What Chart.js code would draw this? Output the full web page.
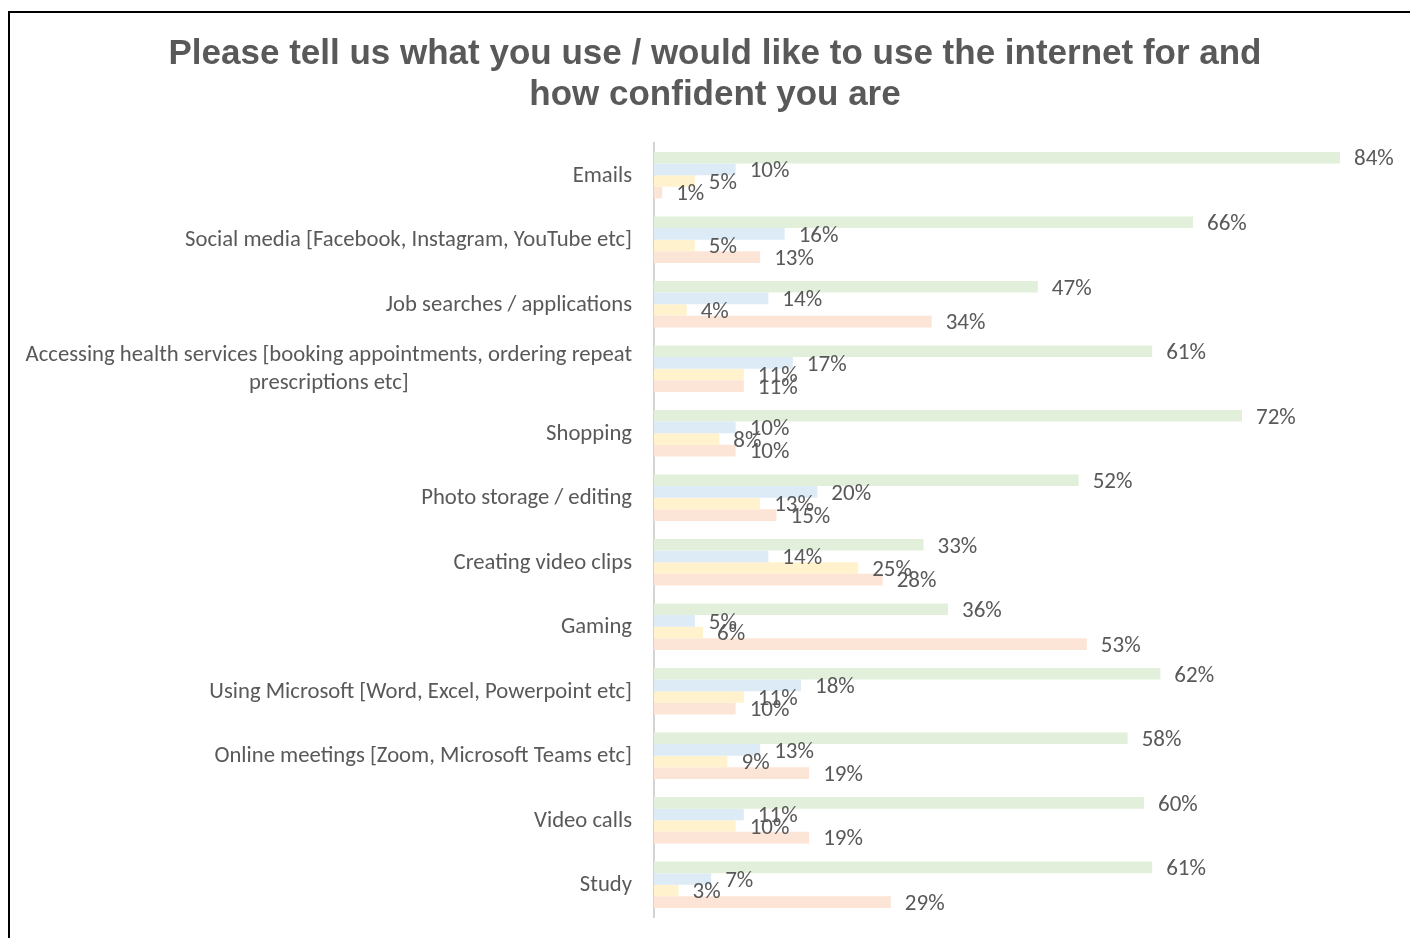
<!DOCTYPE html>
<html>
<head>
<meta charset="utf-8">
<script src="https://cdn.jsdelivr.net/npm/chart.js@4"></script>
<style>
  html, body { margin: 0; padding: 0; background: #fff; overflow: hidden; }
  #frame {
    position: absolute; left: 8px; top: 11px;
    width: 1440px; height: 960px;
    border: 2px solid #000; background: #fff;
  }
  #chart { display: block; }
</style>
</head>
<body>
<div id="frame"><canvas id="chart" width="1410" height="925"></canvas></div>
<script>
// Activities asked about (multi-line entries are wrapped labels)
const categories = [
  'Emails',
  'Social media [Facebook, Instagram, YouTube etc]',
  'Job searches / applications',
  ['Accessing health services [booking appointments, ordering repeat', 'prescriptions etc]'],
  'Shopping',
  'Photo storage / editing',
  'Creating video clips',
  'Gaming',
  'Using Microsoft [Word, Excel, Powerpoint etc]',
  'Online meetings [Zoom, Microsoft Teams etc]',
  'Video calls',
  'Study'
];

// Share of respondents (%) per answer
const confidentUse   = [84, 66, 47, 61, 72, 52, 33, 36, 62, 58, 60, 61];
const someHelpNeeded = [10, 16, 14, 17, 10, 20, 14,  5, 18, 13, 11,  7];
const wouldLikeToUse = [ 5,  5,  4, 11,  8, 13, 25,  6, 11,  9, 10,  3];
const notInterested  = [ 1, 13, 34, 11, 10, 15, 28, 53, 10, 19, 19, 29];

const TEXT = '#595959';
const LABEL_FONT = '22.7px Carlito, Lato, "Open Sans", sans-serif';
const VALUE_FONT = '23px Carlito, Lato, "Open Sans", sans-serif';

// Category names on the left: lines centred on each other, block right-aligned
const categoryLabels = {
  id: 'categoryLabels',
  afterDraw(chart) {
    const { ctx, chartArea, scales: { y } } = chart;
    ctx.save();
    ctx.font = LABEL_FONT;
    ctx.fillStyle = TEXT;
    ctx.textAlign = 'center';
    ctx.textBaseline = 'middle';
    const lineH = 28;
    const right = chartArea.left - 22;
    categories.forEach((lab, i) => {
      const lines = Array.isArray(lab) ? lab : [lab];
      const w = Math.max(...lines.map(l => ctx.measureText(l).width));
      const cx = right - w / 2;
      const yc = y.getPixelForValue(i);
      lines.forEach((l, j) => {
        ctx.fillText(l, cx, yc + 1 + (j - (lines.length - 1) / 2) * lineH);
      });
    });
    ctx.restore();
  }
};

// Percentage labels at the end of each bar
const valueLabels = {
  id: 'valueLabels',
  afterDatasetsDraw(chart) {
    const { ctx } = chart;
    ctx.save();
    ctx.font = VALUE_FONT;
    ctx.fillStyle = TEXT;
    ctx.textAlign = 'left';
    ctx.textBaseline = 'middle';
    chart.data.datasets.forEach((ds, di) => {
      const meta = chart.getDatasetMeta(di);
      meta.data.forEach((bar, i) => {
        ctx.fillText(ds.data[i] + '%', bar.x + 14, bar.y + 2);
      });
    });
    ctx.restore();
  }
};

new Chart(document.getElementById('chart'), {
  type: 'bar',
  data: {
    labels: categories,
    datasets: [
      { label: 'Use confidently',       data: confidentUse,   backgroundColor: '#e2efda' },
      { label: 'Use with some help',    data: someHelpNeeded, backgroundColor: '#ddebf7' },
      { label: 'Would like to use',     data: wouldLikeToUse, backgroundColor: '#fff2cc' },
      { label: 'Not interested',        data: notInterested,  backgroundColor: '#fce4d6' }
    ]
  },
  options: {
    indexAxis: 'y',
    responsive: false,
    animation: false,
    datasets: { bar: { categoryPercentage: 0.72, barPercentage: 1.0 } },
    layout: { padding: { left: 0, right: 0, top: 0, bottom: 21 } },
    scales: {
      x: { display: false, min: 0, max: 93.8 },
      y: {
        grid: { display: false, drawTicks: false },
        border: { display: true, color: '#d4d4d4', width: 2 },
        ticks: { display: false },
        afterFit(scale) { scale.width = 644; }
      }
    },
    plugins: {
      legend: { display: false },
      tooltip: { enabled: false },
      title: {
        display: true,
        text: ['Please tell us what you use / would like to use the internet for and', 'how confident you are'],
        color: TEXT,
        font: { family: '"Liberation Sans", Arial, sans-serif', size: 35, weight: 'bold', lineHeight: 1.17 },
        padding: { top: 21, bottom: 27 }
      }
    }
  },
  plugins: [categoryLabels, valueLabels]
});
</script>
</body>
</html>
